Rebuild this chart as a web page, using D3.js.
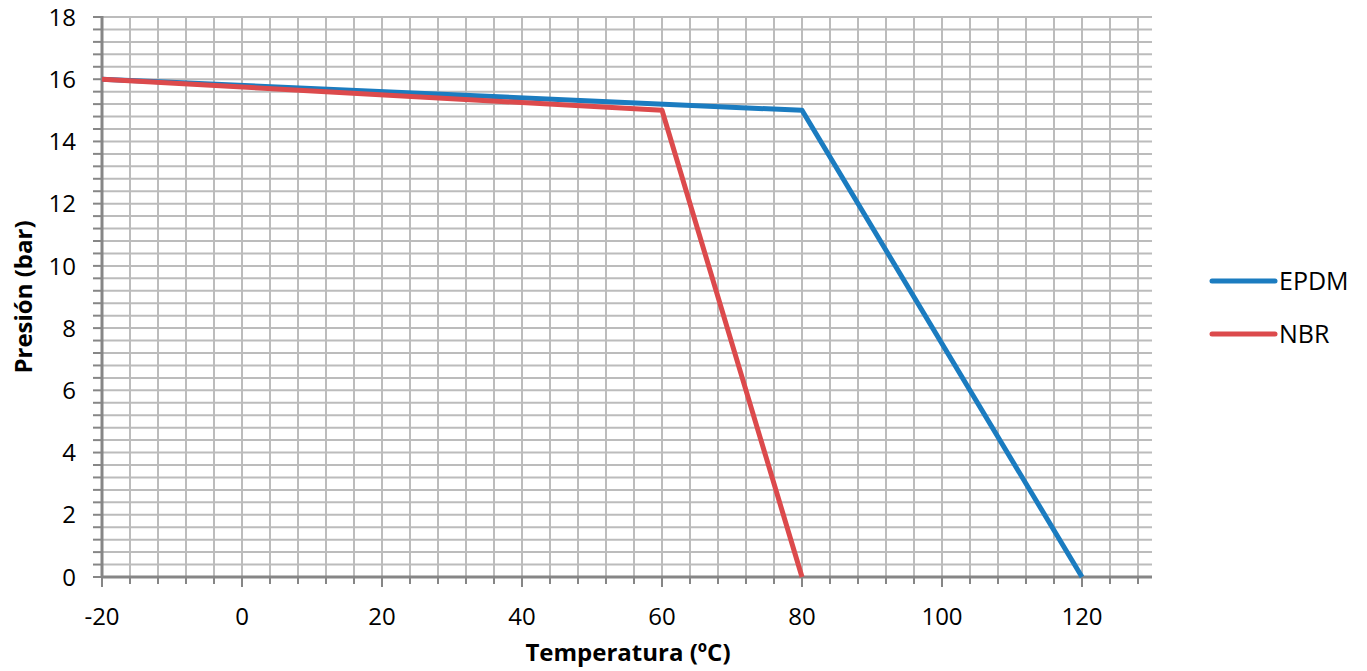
<!DOCTYPE html>
<html>
<head>
<meta charset="utf-8">
<script src="https://cdn.jsdelivr.net/npm/d3@7"></script>
<style>
  body { margin: 0; background: #fff; }
  text { font-family: "Open Sans", "Liberation Sans", sans-serif; fill: #000; }
</style>
</head>
<body>
<div id="chart"></div>
<script>
// data
const seriesNames = ["EPDM", "NBR"];
const seriesColors = ["#1b7cc0", "#dc4a4c"];
const epdmTemp = [-20, 80, 120];
const epdmPres = [16, 15, 0];
const nbrTemp = [-20, 60, 80];
const nbrPres = [16, 15, 0];
const xTicks = [-20, 0, 20, 40, 60, 80, 100, 120];
const yTicks = [0, 2, 4, 6, 8, 10, 12, 14, 16, 18];

const width = 1367, height = 671;
const margin = { left: 102, right: 215, top: 17, bottom: 94 };

const svg = d3.select("#chart").append("svg")
  .attr("width", width)
  .attr("height", height);

const x = d3.scaleLinear().domain([-20, 130]).range([margin.left, width - margin.right]);
const y = d3.scaleLinear().domain([0, 18]).range([height - margin.bottom, margin.top]);

// grid
const grid = svg.append("g");
grid.selectAll("line.h")
  .data(d3.range(0, 45).map(i => i * 0.4 + 0.4))
  .enter().append("line")
  .attr("x1", x(-20)).attr("x2", x(130))
  .attr("y1", d => y(d)).attr("y2", d => y(d))
  .attr("stroke", "#bcbcbc").attr("stroke-width", 2);
grid.selectAll("line.v")
  .data(d3.range(1, 38).map(i => -20 + i * 4))
  .enter().append("line")
  .attr("x1", d => x(d)).attr("x2", d => x(d))
  .attr("y1", y(0)).attr("y2", y(18))
  .attr("stroke", "#bcbcbc").attr("stroke-width", 2);

// axes
const axisColor = "#868686";
const ax = svg.append("g");
// minor ticks
ax.selectAll("line.ym")
  .data(d3.range(0, 46).map(i => i * 0.4))
  .enter().append("line")
  .attr("x1", x(-20) - 9).attr("x2", x(-20))
  .attr("y1", d => y(d)).attr("y2", d => y(d))
  .attr("stroke", axisColor).attr("stroke-width", 2);
ax.selectAll("line.xm")
  .data(d3.range(0, 38).map(i => -20 + i * 4))
  .enter().append("line")
  .attr("x1", d => x(d)).attr("x2", d => x(d))
  .attr("y1", y(0)).attr("y2", d => y(0) + (d % 20 === 0 ? 10 : 7))
  .attr("stroke", axisColor).attr("stroke-width", 2);
ax.append("line")
  .attr("x1", x(-20)).attr("x2", x(-20))
  .attr("y1", y(0) + 1).attr("y2", y(18) - 1)
  .attr("stroke", axisColor).attr("stroke-width", 3);
ax.append("line")
  .attr("x1", x(-20)).attr("x2", x(130))
  .attr("y1", y(0)).attr("y2", y(0))
  .attr("stroke", axisColor).attr("stroke-width", 3);

// tick labels
svg.append("g").selectAll("text")
  .data(yTicks)
  .enter().append("text")
  .attr("x", 76)
  .attr("y", d => y(d))
  .attr("dy", "0.36em")
  .attr("text-anchor", "end")
  .attr("font-size", 24)
  .text(d => d);
svg.append("g").selectAll("text")
  .data(xTicks)
  .enter().append("text")
  .attr("x", d => x(d))
  .attr("y", 625)
  .attr("text-anchor", "middle")
  .attr("font-size", 24)
  .text(d => d);

// axis titles
svg.append("text")
  .attr("x", 628).attr("y", 661)
  .attr("text-anchor", "middle")
  .attr("font-size", 24).attr("font-weight", "bold")
  .text("Temperatura (ºC)");
svg.append("text")
  .attr("transform", `translate(32, ${y(9)}) rotate(-90)`)
  .attr("text-anchor", "middle")
  .attr("font-size", 24).attr("font-weight", "bold")
  .text("Presión (bar)");

// lines
const line = d3.line().x(d => x(d[0])).y(d => y(d[1]));
const series = [
  d3.zip(epdmTemp, epdmPres),
  d3.zip(nbrTemp, nbrPres)
];
svg.append("g").selectAll("path")
  .data(series)
  .enter().append("path")
  .attr("d", line)
  .attr("fill", "none")
  .attr("stroke", (d, i) => seriesColors[i])
  .attr("stroke-width", 5)
  .attr("stroke-linejoin", "round");

// legend
const legend = svg.append("g").selectAll("g")
  .data(seriesNames)
  .enter().append("g")
  .attr("transform", (d, i) => `translate(1212, ${281 + i * 53})`);
legend.append("line")
  .attr("x1", 0).attr("x2", 63)
  .attr("stroke", (d, i) => seriesColors[i])
  .attr("stroke-width", 5)
  .attr("stroke-linecap", "round");
legend.append("text")
  .attr("x", 67).attr("dy", "0.36em")
  .attr("font-size", 25)
  .text(d => d);
</script>
</body>
</html>
